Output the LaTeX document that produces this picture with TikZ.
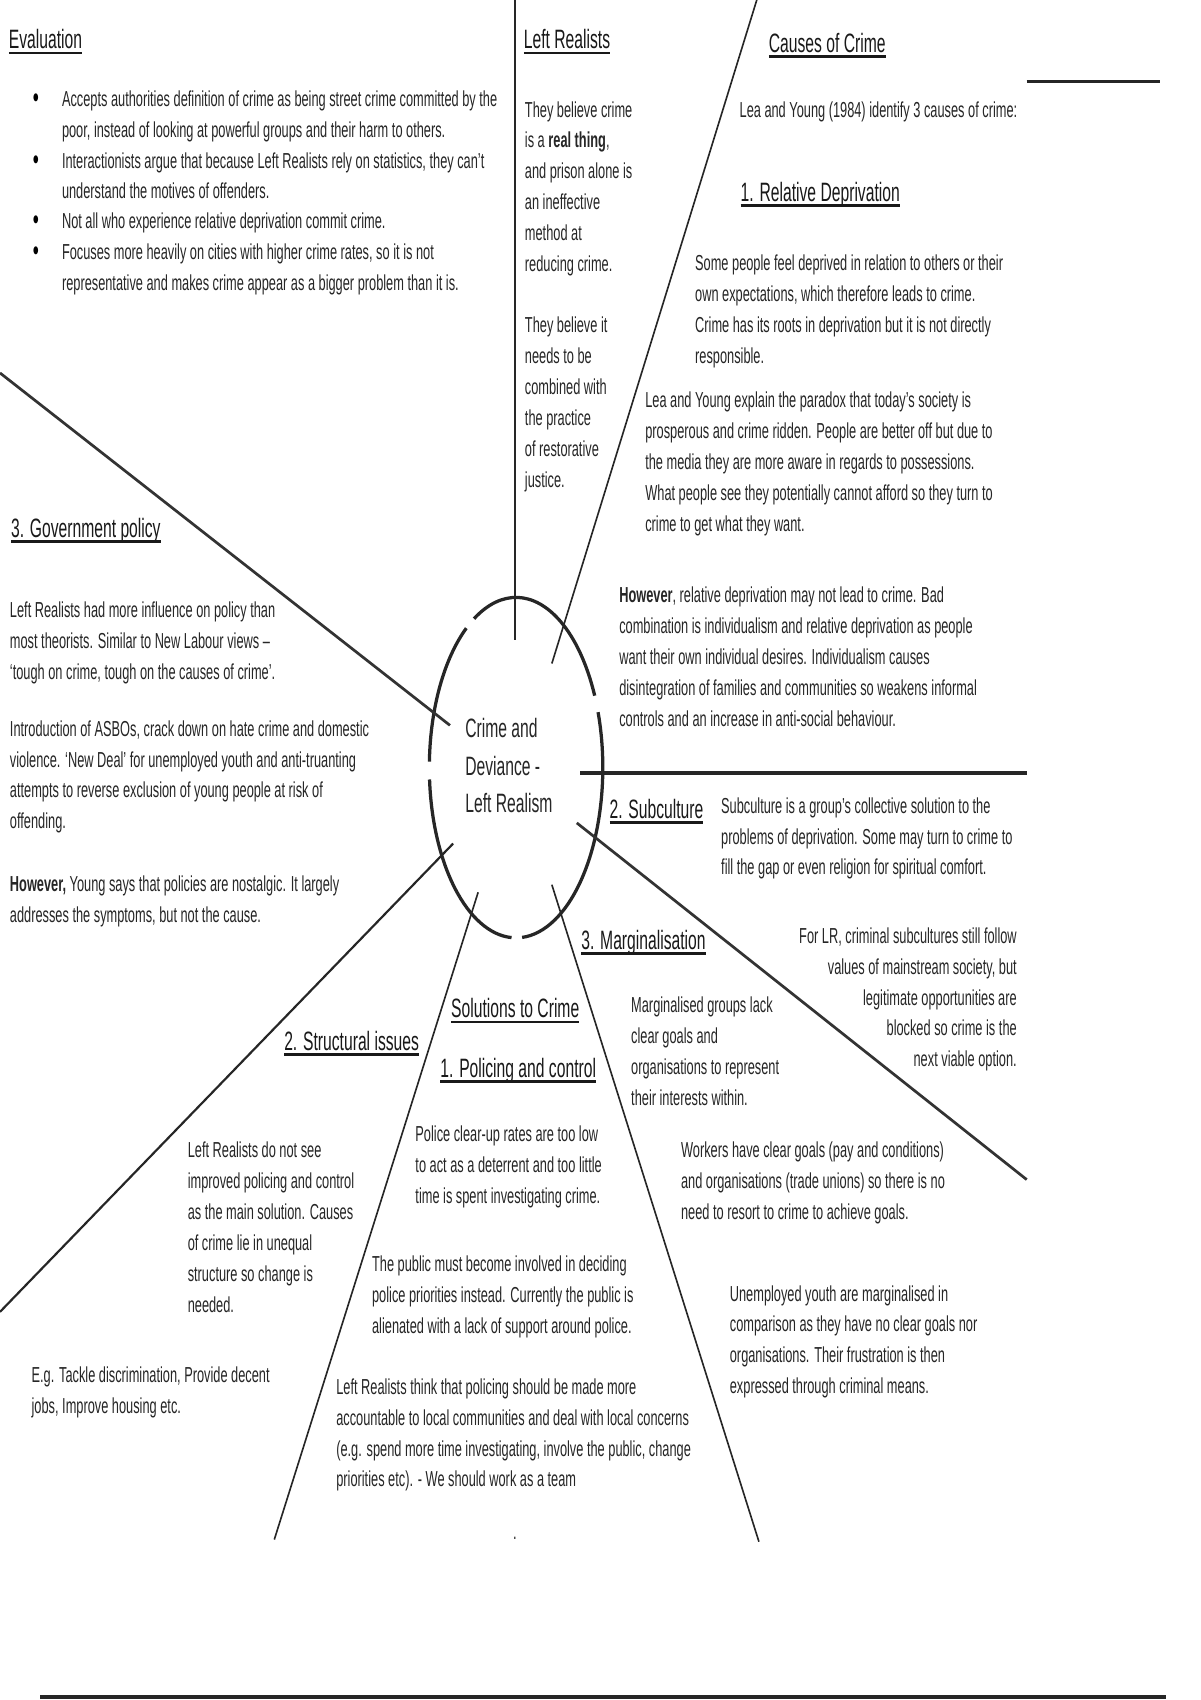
\documentclass[tikz,border=0pt]{standalone}
\usepackage{fontspec}
\setmainfont{Liberation Sans}[FakeStretch=0.59]
\usetikzlibrary{positioning,calc}
\newcommand{\bodyfont}{\fontsize{20}{28.5}\selectfont}
\newcommand{\headfont}{\fontsize{24.5}{34.5}\selectfont}
\newsavebox{\hdbox}
\newcommand{\hd}[1]{\sbox{\hdbox}{#1}\rlap{\vrule width \wd\hdbox height -3pt depth 5.2pt}\usebox{\hdbox}}
% multi-line nodes sit on the baseline of their last line
\tikzset{
  body/.style={font=\bodyfont, align=left, anchor=base west, inner sep=0pt, text=black!85},
  bodyr/.style={font=\bodyfont, align=right, anchor=base east, inner sep=0pt, text=black!85},
  head/.style={font=\headfont, anchor=base west, inner sep=0pt, text=black!90},
  hubtext/.style={font=\headfont, align=left, anchor=base west, inner sep=0pt, text=black!85},
  bullet/.style={font=\fontsize{27}{28}\selectfont, anchor=base, inner sep=0pt, text=black},
  spoke/.style={line width=1.5pt, black!85},
  spokemid/.style={line width=2pt, black!85},
  spokeb/.style={line width=2.5pt, black!80},
  rim/.style={line width=3pt, black!85},
  hrule/.style={line width=3.2pt, black!85}
}

\begin{document}
\begin{tikzpicture}[x=1pt,y=-1pt]
\useasboundingbox[fill=white] (0,0) rectangle (1107,1568);

% centre
\coordinate (hc) at (476,708);
\node[hubtext] (hub) at (429,749.5) {Crime and\\Deviance -\\Left Realism};
\draw[rim] (hc) ++(-119:80 and 157) arc[start angle=-119, end angle=-25, x radius=80, y radius=157];
\draw[rim] (hc) ++(-19:80 and 157) arc[start angle=-19, end angle=86, x radius=80, y radius=157];
\draw[rim] (hc) ++(93:80 and 157) arc[start angle=93, end angle=176, x radius=80, y radius=157];
\draw[rim] (hc) ++(182:80 and 157) arc[start angle=182, end angle=235, x radius=80, y radius=157];

% spokes
\coordinate (n1) at (475,590);   \coordinate (n1o) at (475,0);
\coordinate (n2) at (509,612);   \coordinate (n2o) at (698,0);
\coordinate (w1) at (415,669);   \coordinate (w1o) at (0,344);
\coordinate (e1) at (535,713);   \coordinate (e1o) at (947,713);
\coordinate (e2) at (532,759);   \coordinate (e2o) at (947,1088);
\coordinate (w2) at (418,778);   \coordinate (w2o) at (0,1210);
\coordinate (s1) at (441,823);   \coordinate (s1o) at (253,1420);
\coordinate (s2) at (509,816);   \coordinate (s2o) at (700,1422);
\draw[spoke] (n1) -- (n1o);
\draw[spoke] (n2) -- (n2o);
\draw[spokeb] (w1) -- (w1o);
\draw[hrule] (e1) -- (e1o);
\draw[spokeb] (e2) -- (e2o);
\draw[spokemid] (w2) -- (w2o);
\draw[spoke] (s1) -- (s1o);
\draw[spoke] (s2) -- (s2o);

% rules
\coordinate (tr1) at (947,75);   \coordinate (tr2) at (1070,75);
\coordinate (bt1) at (37,1565);  \coordinate (bt2) at (1075,1565);
\draw[line width=2.5pt, black!85] (tr1) -- (tr2);
\draw[hrule] (bt1) -- (bt2);

% evaluation
\node[head] (evh) at (8,45) {\hd{Evaluation}};
\node[bullet] (b1) at (33,99) {•};
\node[body] (ev1) at (57,126.5) {Accepts authorities definition of crime as being street crime committed by the\\poor, instead of looking at powerful groups and their harm to others.};
\node[bullet] (b2) at (33,156) {•};
\node[body] (ev2) at (57,183.5) {Interactionists argue that because Left Realists rely on statistics, they can’t\\understand the motives of offenders.};
\node[bullet] (b3) at (33,212) {•};
\node[body] (ev3) at (57,211) {Not all who experience relative deprivation commit crime.};
\node[bullet] (b4) at (33,240) {•};
\node[body] (ev4) at (57,267.5) {Focuses more heavily on cities with higher crime rates, so it is not\\representative and makes crime appear as a bigger problem than it is.};

% left realists
\node[head] (lrh) at (483,45) {\hd{Left Realists}};
\node[body] (lr1) at (484,250.5) {They believe crime\\is a \textbf{real thing},\\and prison alone is\\an ineffective\\method at\\reducing crime.};
\node[body] (lr2) at (484,449.5) {They believe it\\needs to be\\combined with\\the practice\\of restorative\\justice.};

% causes of crime
\node[head] (cch) at (709,48) {\hd{Causes of Crime}};
\node[body] (cc0) at (682,108) {Lea and Young (1984) identify 3 causes of crime:};
\node[head] (rdh) at (683,185.5) {\hd{1. Relative Deprivation}};
\node[body] (rd1) at (641,335) {Some people feel deprived in relation to others or their\\own expectations, which therefore leads to crime.\\Crime has its roots in deprivation but it is not directly\\responsible.};
\node[body] (rd2) at (595,490) {Lea and Young explain the paradox that today’s society is\\prosperous and crime ridden. People are better off but due to\\the media they are more aware in regards to possessions.\\What people see they potentially cannot afford so they turn to\\crime to get what they want.};
\node[body] (rd3) at (571,670) {\textbf{However}, relative deprivation may not lead to crime. Bad\\combination is individualism and relative deprivation as people\\want their own individual desires. Individualism causes\\disintegration of families and communities so weakens informal\\controls and an increase in anti-social behaviour.};

% government policy
\node[head] (gph) at (10,495.5) {\hd{3. Government policy}};
\node[body] (gp1) at (9,627) {Left Realists had more influence on policy than\\most theorists. Similar to New Labour views –\\‘tough on crime, tough on the causes of crime’.};
\node[body] (gp2) at (9,764.5) {Introduction of ASBOs, crack down on hate crime and domestic\\violence. ‘New Deal’ for unemployed youth and anti-truanting\\attempts to reverse exclusion of young people at risk of\\offending.};
\node[body] (gp3) at (9,850.5) {\textbf{However,} Young says that policies are nostalgic. It largely\\addresses the symptoms, but not the cause.};

% subculture and marginalisation
\node[head] (sch) at (562,754.5) {\hd{2. Subculture}};
\node[body] (sc1) at (665,807) {Subculture is a group’s collective solution to the\\problems of deprivation. Some may turn to crime to\\fill the gap or even religion for spiritual comfort.};
\node[head] (mgh) at (536,875.5) {\hd{3. Marginalisation}};
\node[bodyr] (mg1) at (938,984) {For LR, criminal subcultures still follow\\values of mainstream society, but\\legitimate opportunities are\\blocked so crime is the\\next viable option.};
\node[body] (mg2) at (582,1019.5) {Marginalised groups lack\\clear goals and\\organisations to represent\\their interests within.};
\node[body] (mg3) at (628,1125) {Workers have clear goals (pay and conditions)\\and organisations (trade unions) so there is no\\need to resort to crime to achieve goals.};
\node[body] (mg4) at (673,1285.5) {Unemployed youth are marginalised in\\comparison as they have no clear goals nor\\organisations. Their frustration is then\\expressed through criminal means.};

% solutions
\node[head] (solh) at (416,938.5) {\hd{Solutions to Crime}};
\node[head] (pch) at (406,993.5) {\hd{1. Policing and control}};
\node[body] (pc1) at (383,1110) {Police clear-up rates are too low\\to act as a deterrent and too little\\time is spent investigating crime.};
\node[body] (pc2) at (343,1230) {The public must become involved in deciding\\police priorities instead. Currently the public is\\alienated with a lack of support around police.};
\node[body] (pc3) at (310,1371.5) {Left Realists think that policing should be made more\\accountable to local communities and deal with local concerns\\(e.g. spend more time investigating, involve the public, change\\priorities etc). - We should work as a team};
\node[body] (pdot) at (473,1420) {.};

% structural issues
\node[head] (sih) at (262,968.5) {\hd{2. Structural issues}};
\node[body] (si1) at (173,1210.5) {Left Realists do not see\\improved policing and control\\as the main solution. Causes\\of crime lie in unequal\\structure so change is\\needed.};
\node[body] (si2) at (29,1303.5) {E.g. Tackle discrimination, Provide decent\\jobs, Improve housing etc.};
\end{tikzpicture}
\end{document}
